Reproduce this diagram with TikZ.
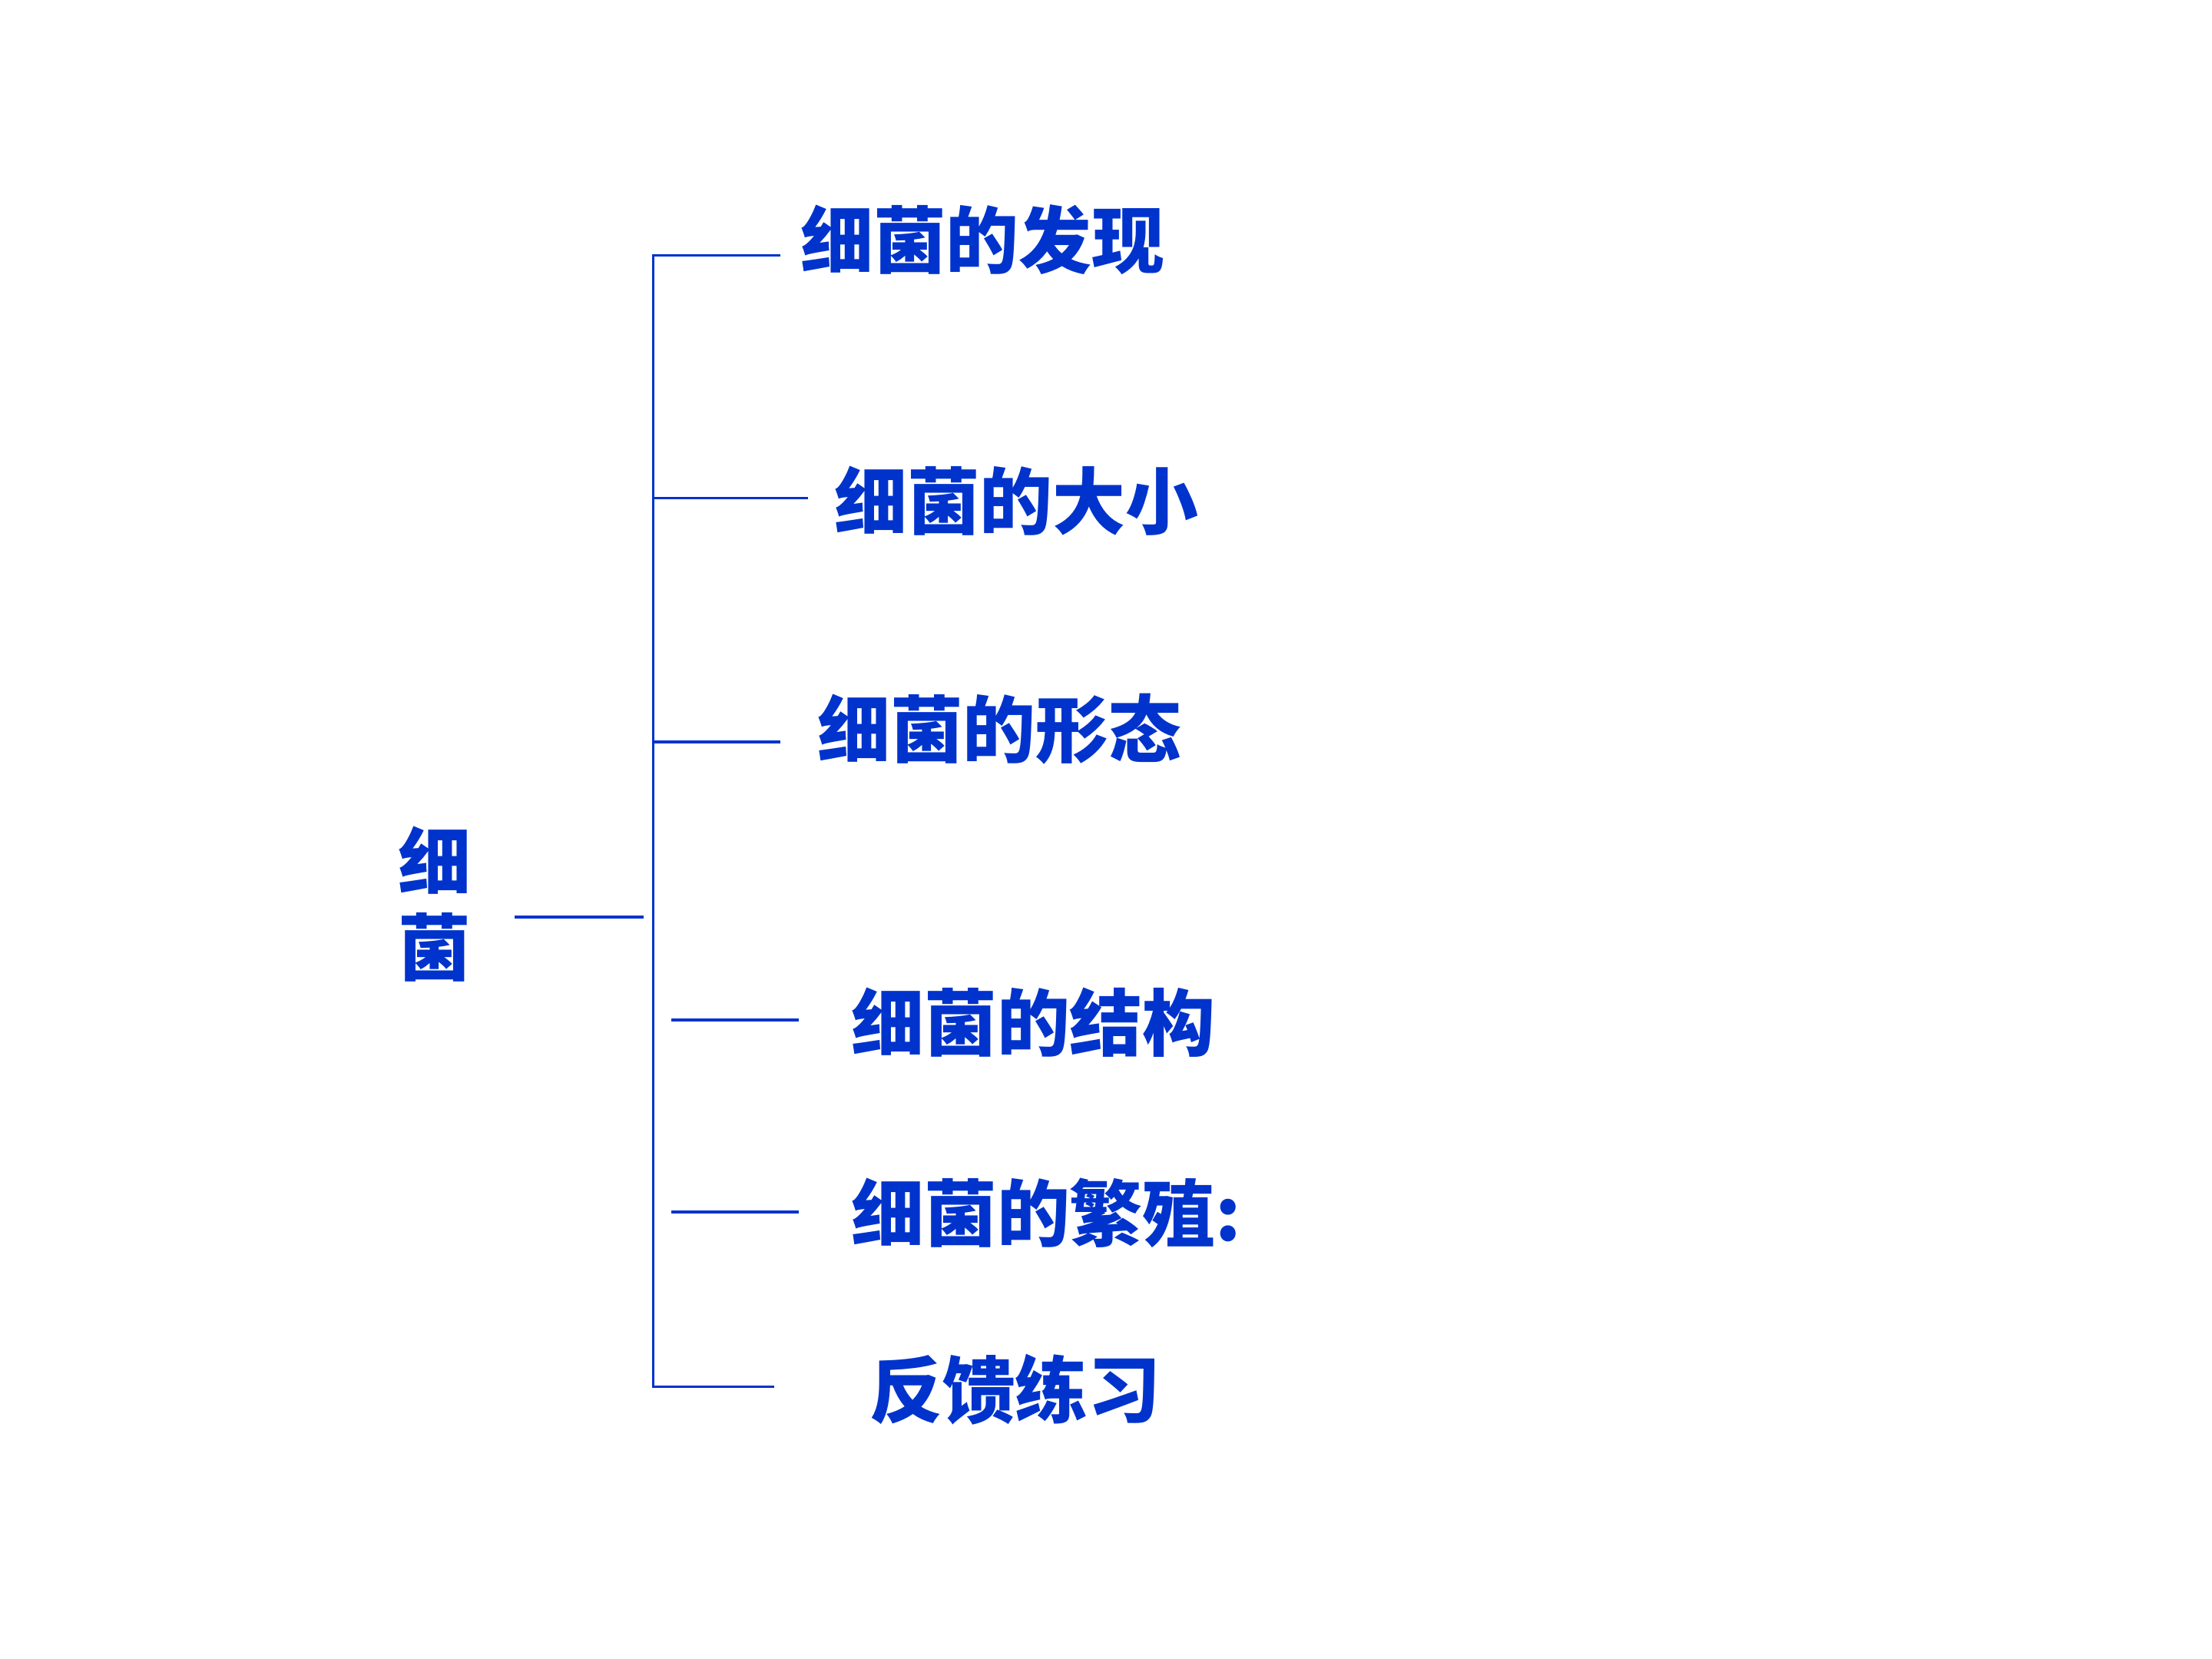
\documentclass[tikz,border=0pt]{standalone}
\usepackage{fontspec}
\newfontfamily\cjk{Noto Sans CJK SC}
\definecolor{topicblue}{RGB}{0,51,204}
\tikzset{
    topic/.style={anchor=west, inner sep=0pt, text=topicblue, font=\cjk\bfseries\fontsize{27}{32}\selectfont},
    branch/.style={topicblue, line width=1pt}
}

\begin{document}
\begin{tikzpicture}[x=0.018367cm, y=-0.018367cm]
    \useasboundingbox (0,0) rectangle (1568,1176);

    \node[topic, anchor=center, align=center] at (308,641) (root) {细\\菌};

    \node[topic] at (567,170) (find) {细菌的发现};
    \node[topic] at (591,355) (size) {细菌的大小};
    \node[topic] at (579,517) (shape) {细菌的形态};
    \node[topic] at (603,725) (struct) {细菌的结构};
    \node[topic] at (603,860) (repro) {细菌的繁殖:};
    \node[topic] at (616,985) (drill) {反馈练习};

    \coordinate (r1) at (365,650);
    \coordinate (r2) at (456,650);
    \coordinate (t1) at (463,181);
    \coordinate (t2) at (463,353);
    \coordinate (t3) at (463,526);
    \coordinate (t6) at (463,983);
    \coordinate (e1) at (553,181);
    \coordinate (e2) at (573,353);
    \coordinate (e3) at (553,526);
    \coordinate (s4) at (476,723);
    \coordinate (e4) at (566,723);
    \coordinate (s5) at (476,859);
    \coordinate (e5) at (566,859);
    \coordinate (e6) at (549,983);

    \draw[branch] (r1) -- (r2);
    \draw[branch] (e1) -- (t1) -- (t6) -- (e6);
    \draw[branch] (t2) -- (e2);
    \draw[branch] (t3) -- (e3);
    \draw[branch] (s4) -- (e4);
    \draw[branch] (s5) -- (e5);

\end{tikzpicture}
\end{document}
